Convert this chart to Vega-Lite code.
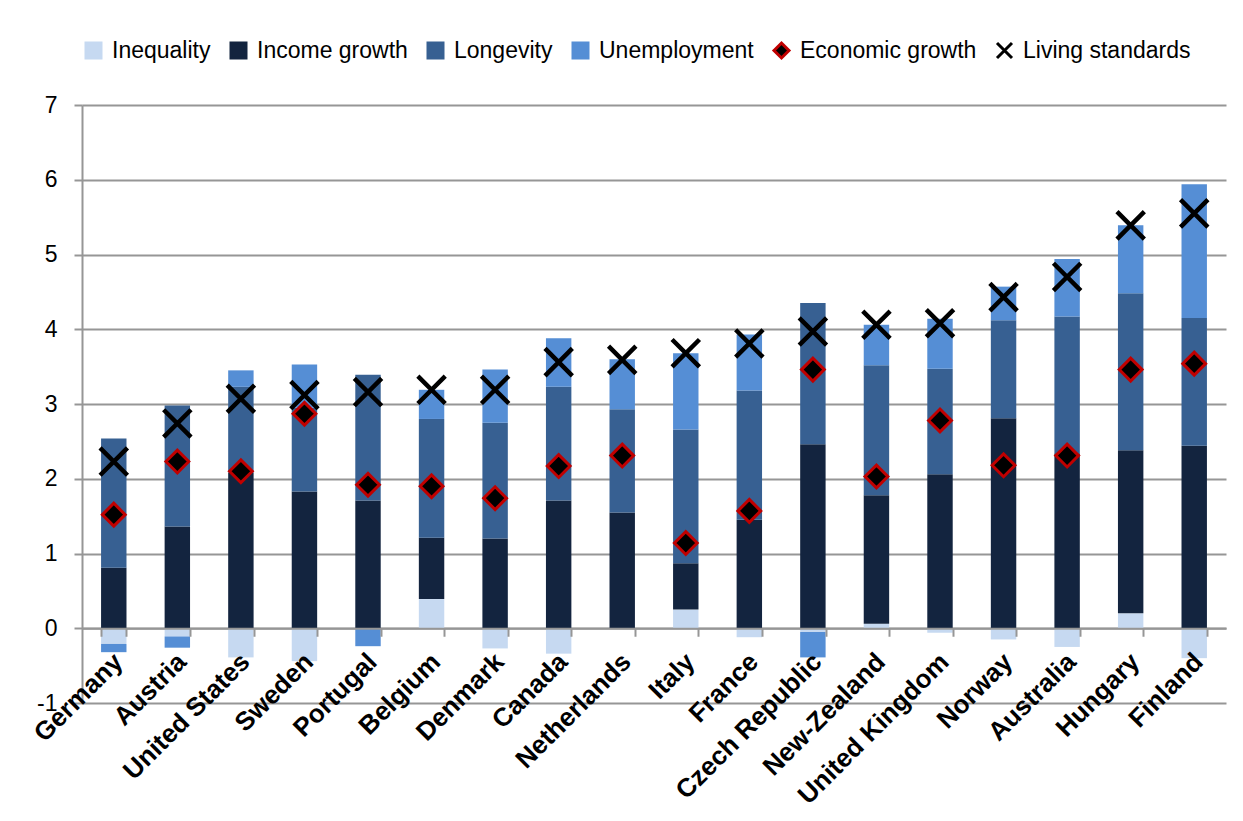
{
  "$schema": "https://vega.github.io/schema/vega-lite/v6.json",
  "width": 1144,
  "height": 598,
  "autosize": {"type": "none"},
  "padding": {"left": 82, "top": 105, "right": 17, "bottom": 118},
  "background": "white",
  "config": {
    "view": {"stroke": null},
    "font": "Liberation Sans",
    "legend": {
      "orient": "none",
      "legendX": 0,
      "legendY": -66,
      "direction": "horizontal",
      "title": null,
      "labelFontSize": 23,
      "labelColor": "black",
      "labelFont": "Liberation Sans",
      "symbolSize": 225,
      "symbolStrokeWidth": 3,
      "columnPadding": 14,
      "labelOffset": 7,
      "labelLimit": 300
    }
  },
  "datasets": {
    "bars": [
      {"country": "Germany", "series": "Inequality", "k": 1, "value": -0.21},
      {"country": "Germany", "series": "Income growth", "k": 2, "value": 0.81},
      {"country": "Germany", "series": "Longevity", "k": 3, "value": 1.73},
      {"country": "Germany", "series": "Unemployment", "k": 4, "value": -0.11},
      {"country": "Austria", "series": "Inequality", "k": 1, "value": -0.11},
      {"country": "Austria", "series": "Income growth", "k": 2, "value": 1.36},
      {"country": "Austria", "series": "Longevity", "k": 3, "value": 1.62},
      {"country": "Austria", "series": "Unemployment", "k": 4, "value": -0.15},
      {"country": "United States", "series": "Inequality", "k": 1, "value": -0.39},
      {"country": "United States", "series": "Income growth", "k": 2, "value": 2.08},
      {"country": "United States", "series": "Longevity", "k": 3, "value": 1.15},
      {"country": "United States", "series": "Unemployment", "k": 4, "value": 0.22},
      {"country": "Sweden", "series": "Inequality", "k": 1, "value": -0.44},
      {"country": "Sweden", "series": "Income growth", "k": 2, "value": 1.83},
      {"country": "Sweden", "series": "Longevity", "k": 3, "value": 1.12},
      {"country": "Sweden", "series": "Unemployment", "k": 4, "value": 0.58},
      {"country": "Portugal", "series": "Inequality", "k": 1, "value": 0},
      {"country": "Portugal", "series": "Income growth", "k": 2, "value": 1.71},
      {"country": "Portugal", "series": "Longevity", "k": 3, "value": 1.68},
      {"country": "Portugal", "series": "Unemployment", "k": 4, "value": -0.24},
      {"country": "Belgium", "series": "Inequality", "k": 1, "value": 0.39},
      {"country": "Belgium", "series": "Income growth", "k": 2, "value": 0.82},
      {"country": "Belgium", "series": "Longevity", "k": 3, "value": 1.59},
      {"country": "Belgium", "series": "Unemployment", "k": 4, "value": 0.39},
      {"country": "Denmark", "series": "Inequality", "k": 1, "value": -0.27},
      {"country": "Denmark", "series": "Income growth", "k": 2, "value": 1.20},
      {"country": "Denmark", "series": "Longevity", "k": 3, "value": 1.55},
      {"country": "Denmark", "series": "Unemployment", "k": 4, "value": 0.71},
      {"country": "Canada", "series": "Inequality", "k": 1, "value": -0.34},
      {"country": "Canada", "series": "Income growth", "k": 2, "value": 1.71},
      {"country": "Canada", "series": "Longevity", "k": 3, "value": 1.52},
      {"country": "Canada", "series": "Unemployment", "k": 4, "value": 0.65},
      {"country": "Netherlands", "series": "Inequality", "k": 1, "value": 0},
      {"country": "Netherlands", "series": "Income growth", "k": 2, "value": 1.55},
      {"country": "Netherlands", "series": "Longevity", "k": 3, "value": 1.38},
      {"country": "Netherlands", "series": "Unemployment", "k": 4, "value": 0.67},
      {"country": "Italy", "series": "Inequality", "k": 1, "value": 0.25},
      {"country": "Italy", "series": "Income growth", "k": 2, "value": 0.62},
      {"country": "Italy", "series": "Longevity", "k": 3, "value": 1.79},
      {"country": "Italy", "series": "Unemployment", "k": 4, "value": 1.02},
      {"country": "France", "series": "Inequality", "k": 1, "value": -0.12},
      {"country": "France", "series": "Income growth", "k": 2, "value": 1.45},
      {"country": "France", "series": "Longevity", "k": 3, "value": 1.73},
      {"country": "France", "series": "Unemployment", "k": 4, "value": 0.75},
      {"country": "Czech Republic", "series": "Inequality", "k": 1, "value": -0.05},
      {"country": "Czech Republic", "series": "Income growth", "k": 2, "value": 2.46},
      {"country": "Czech Republic", "series": "Longevity", "k": 3, "value": 1.89},
      {"country": "Czech Republic", "series": "Unemployment", "k": 4, "value": -0.34},
      {"country": "New-Zealand", "series": "Inequality", "k": 1, "value": 0.06},
      {"country": "New-Zealand", "series": "Income growth", "k": 2, "value": 1.72},
      {"country": "New-Zealand", "series": "Longevity", "k": 3, "value": 1.74},
      {"country": "New-Zealand", "series": "Unemployment", "k": 4, "value": 0.54},
      {"country": "United Kingdom", "series": "Inequality", "k": 1, "value": -0.06},
      {"country": "United Kingdom", "series": "Income growth", "k": 2, "value": 2.06},
      {"country": "United Kingdom", "series": "Longevity", "k": 3, "value": 1.41},
      {"country": "United Kingdom", "series": "Unemployment", "k": 4, "value": 0.67},
      {"country": "Norway", "series": "Inequality", "k": 1, "value": -0.15},
      {"country": "Norway", "series": "Income growth", "k": 2, "value": 2.81},
      {"country": "Norway", "series": "Longevity", "k": 3, "value": 1.31},
      {"country": "Norway", "series": "Unemployment", "k": 4, "value": 0.45},
      {"country": "Australia", "series": "Inequality", "k": 1, "value": -0.25},
      {"country": "Australia", "series": "Income growth", "k": 2, "value": 2.34},
      {"country": "Australia", "series": "Longevity", "k": 3, "value": 1.83},
      {"country": "Australia", "series": "Unemployment", "k": 4, "value": 0.77},
      {"country": "Hungary", "series": "Inequality", "k": 1, "value": 0.20},
      {"country": "Hungary", "series": "Income growth", "k": 2, "value": 2.18},
      {"country": "Hungary", "series": "Longevity", "k": 3, "value": 2.10},
      {"country": "Hungary", "series": "Unemployment", "k": 4, "value": 0.91},
      {"country": "Finland", "series": "Inequality", "k": 1, "value": -0.40},
      {"country": "Finland", "series": "Income growth", "k": 2, "value": 2.44},
      {"country": "Finland", "series": "Longevity", "k": 3, "value": 1.71},
      {"country": "Finland", "series": "Unemployment", "k": 4, "value": 1.79}
    ],
    "eg": [
      {"country": "Germany", "series": "Economic growth", "value": 1.52},
      {"country": "Austria", "series": "Economic growth", "value": 2.23},
      {"country": "United States", "series": "Economic growth", "value": 2.10},
      {"country": "Sweden", "series": "Economic growth", "value": 2.87},
      {"country": "Portugal", "series": "Economic growth", "value": 1.92},
      {"country": "Belgium", "series": "Economic growth", "value": 1.90},
      {"country": "Denmark", "series": "Economic growth", "value": 1.74},
      {"country": "Canada", "series": "Economic growth", "value": 2.17},
      {"country": "Netherlands", "series": "Economic growth", "value": 2.31},
      {"country": "Italy", "series": "Economic growth", "value": 1.14},
      {"country": "France", "series": "Economic growth", "value": 1.57},
      {"country": "Czech Republic", "series": "Economic growth", "value": 3.46},
      {"country": "New-Zealand", "series": "Economic growth", "value": 2.03},
      {"country": "United Kingdom", "series": "Economic growth", "value": 2.78},
      {"country": "Norway", "series": "Economic growth", "value": 2.18},
      {"country": "Australia", "series": "Economic growth", "value": 2.31},
      {"country": "Hungary", "series": "Economic growth", "value": 3.46},
      {"country": "Finland", "series": "Economic growth", "value": 3.54}
    ],
    "ls": [
      {"country": "Germany", "series": "Living standards", "value": 2.23},
      {"country": "Austria", "series": "Living standards", "value": 2.74},
      {"country": "United States", "series": "Living standards", "value": 3.07},
      {"country": "Sweden", "series": "Living standards", "value": 3.12},
      {"country": "Portugal", "series": "Living standards", "value": 3.16},
      {"country": "Belgium", "series": "Living standards", "value": 3.19},
      {"country": "Denmark", "series": "Living standards", "value": 3.19},
      {"country": "Canada", "series": "Living standards", "value": 3.56},
      {"country": "Netherlands", "series": "Living standards", "value": 3.59},
      {"country": "Italy", "series": "Living standards", "value": 3.68},
      {"country": "France", "series": "Living standards", "value": 3.81},
      {"country": "Czech Republic", "series": "Living standards", "value": 3.97},
      {"country": "New-Zealand", "series": "Living standards", "value": 4.06},
      {"country": "United Kingdom", "series": "Living standards", "value": 4.08},
      {"country": "Norway", "series": "Living standards", "value": 4.43},
      {"country": "Australia", "series": "Living standards", "value": 4.70},
      {"country": "Hungary", "series": "Living standards", "value": 5.39},
      {"country": "Finland", "series": "Living standards", "value": 5.55}
    ]
  },
  "encoding": {
    "x": {
      "field": "country",
      "type": "nominal",
      "sort": ["Germany", "Austria", "United States", "Sweden", "Portugal", "Belgium", "Denmark", "Canada", "Netherlands", "Italy", "France", "Czech Republic", "New-Zealand", "United Kingdom", "Norway", "Australia", "Hungary", "Finland"],
      "scale": {"paddingInner": 0.6, "paddingOuter": 0.3},
      "axis": {
        "title": null,
        "offset": -74.75,
        "zindex": 1,
        "domainColor": "#969696",
        "domainWidth": 2,
        "tickBand": "extent",
        "tickColor": "#969696",
        "tickWidth": 2,
        "tickSize": 8,
        "labelAngle": -45,
        "labelFont": "Liberation Sans",
        "labelFontWeight": "bold",
        "labelFontSize": 26,
        "labelColor": "black",
        "labelPadding": 12,
        "labelOffset": -5,
        "labelLimit": 300
      }
    },
    "y": {
      "field": "value",
      "type": "quantitative",
      "scale": {"domain": [-1, 7], "nice": false},
      "axis": {
        "title": null,
        "values": [-1, 0, 1, 2, 3, 4, 5, 6, 7],
        "labelExpr": "datum.value < 0 ? '-' + abs(datum.value) : '' + datum.value",
        "grid": true,
        "gridColor": "#969696",
        "gridWidth": 2,
        "domainColor": "#969696",
        "domainWidth": 2,
        "tickColor": "#969696",
        "tickWidth": 2,
        "tickSize": 8,
        "labelPadding": 17,
        "labelFont": "Liberation Sans",
        "labelFontSize": 23,
        "labelColor": "black"
      }
    }
  },
  "layer": [
    {
      "data": {"name": "bars"},
      "mark": {"type": "bar"},
      "encoding": {
        "fill": {
          "field": "series",
          "type": "nominal",
          "scale": {
            "domain": ["Inequality", "Income growth", "Longevity", "Unemployment", "Economic growth", "Living standards"],
            "range": ["#c6d9f1", "#13243f", "#376092", "#558ed5", "black", "black"]
          }
        },
        "order": {"field": "k", "type": "quantitative"}
      }
    },
    {
      "data": {"name": "eg"},
      "mark": {"type": "point", "filled": true, "size": 520, "strokeWidth": 3, "opacity": 1},
      "encoding": {
        "fill": {"field": "series", "type": "nominal"},
        "shape": {
          "field": "series",
          "type": "nominal",
          "scale": {
            "domain": ["Inequality", "Income growth", "Longevity", "Unemployment", "Economic growth", "Living standards"],
            "range": ["square", "square", "square", "square", "diamond", "M-1,-1L1,1M1,-1L-1,1"]
          }
        },
        "stroke": {
          "field": "series",
          "type": "nominal",
          "scale": {
            "domain": ["Inequality", "Income growth", "Longevity", "Unemployment", "Economic growth", "Living standards"],
            "range": ["#c6d9f1", "#13243f", "#376092", "#558ed5", "#c00000", "black"]
          }
        }
      }
    },
    {
      "data": {"name": "ls"},
      "mark": {"type": "point", "filled": true, "size": 750, "strokeWidth": 4.5, "opacity": 1},
      "encoding": {
        "fill": {"field": "series", "type": "nominal"},
        "shape": {"field": "series", "type": "nominal"},
        "stroke": {"field": "series", "type": "nominal"}
      }
    }
  ]
}
